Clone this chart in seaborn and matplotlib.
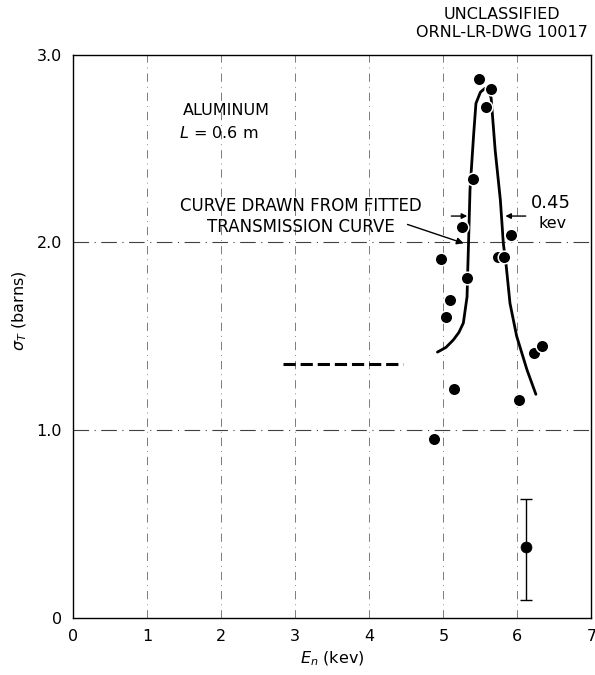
import matplotlib
matplotlib.use("Agg")
import matplotlib.pyplot as plt
import seaborn as sns
import pandas as pd

# Measured total cross section of aluminum
energy_kev = [4.87, 4.965, 5.03, 5.09, 5.15, 5.25, 5.32, 5.40, 5.48, 5.57,
              5.65, 5.74, 5.82, 5.91, 6.02, 6.22, 6.33]
sigma_barns = [0.95, 1.91, 1.60, 1.69, 1.22, 2.08, 1.81, 2.34, 2.87, 2.72,
               2.815, 1.92, 1.92, 2.04, 1.16, 1.41, 1.45]

# Low point with its error bar
err_energy = [6.12]
err_sigma = [0.378]
err_low = [0.094]
err_high = [0.63]

# Curve drawn from the fitted transmission curve
fit_energy = [4.92, 5.035, 5.135, 5.21, 5.27, 5.32, 5.33, 5.34, 5.36, 5.41,
              5.44, 5.50, 5.56, 5.605, 5.645, 5.70, 5.77, 5.81, 5.85, 5.90,
              5.99, 6.13, 6.25]
fit_sigma = [1.415, 1.44, 1.48, 1.52, 1.57, 1.71, 1.86, 1.995, 2.28, 2.58,
             2.74, 2.80, 2.82, 2.81, 2.77, 2.49, 2.225, 1.995, 1.87, 1.675,
             1.50, 1.32, 1.19]

# Potential-scattering level
level_energy = [2.84, 4.45]
level_sigma = [1.35, 1.35]

x_ticks = [0, 1, 2, 3, 4, 5, 6, 7]
x_tick_labels = ["0", "1", "2", "3", "4", "5", "6", "7"]
y_ticks = [0, 1.0, 2.0, 3.0]
y_tick_labels = ["0", "1.0", "2.0", "3.0"]

sns.set_style("white")
plt.rcParams["font.family"] = ["DejaVu Sans"]
plt.rcParams["text.color"] = "black"
plt.rcParams["axes.labelcolor"] = "black"
plt.rcParams["xtick.color"] = "black"
plt.rcParams["ytick.color"] = "black"

fig = plt.figure(figsize=(5.95, 6.75), dpi=100)
ax = fig.add_axes([0.123, 0.085, 0.871, 0.834])

# sparse dash-dot grid
for gx in x_ticks[1:-1]:
    ax.axvline(gx, color="0.4", lw=0.6, ls=(0, (10, 6, 1, 6)), zorder=0)
for gy in y_ticks[1:-1]:
    ax.axhline(gy, color="0.25", lw=0.8, ls=(0, (14, 5, 1, 5)), zorder=0)

fit_df = pd.DataFrame({"E": fit_energy, "sigma": fit_sigma})
sns.lineplot(data=fit_df, x="E", y="sigma", sort=False, color="black",
             lw=2.0, ax=ax, zorder=2)

level_df = pd.DataFrame({"E": level_energy, "sigma": level_sigma})
sns.lineplot(data=level_df, x="E", y="sigma", color="black", lw=2.2,
             ls=(0, (4, 1.6)), ax=ax, zorder=2)

pts_df = pd.DataFrame({"E": energy_kev, "sigma": sigma_barns})
sns.scatterplot(data=pts_df, x="E", y="sigma", color="black", s=82,
                edgecolor="white", linewidth=1.1, ax=ax, zorder=3)

err_df = pd.DataFrame({"E": err_energy, "sigma": err_sigma})
ax.errorbar(err_energy, err_sigma,
            yerr=[[err_sigma[0] - err_low[0]], [err_high[0] - err_sigma[0]]],
            fmt="none", ecolor="black", elinewidth=1.0, capsize=4, zorder=2)
sns.scatterplot(data=err_df, x="E", y="sigma", color="black", s=62,
                edgecolor="black", linewidth=0.5, ax=ax, zorder=3)

ax.set_xlim(0, 7)
ax.set_ylim(0, 3.0)
ax.set_xticks(x_ticks)
ax.set_xticklabels(x_tick_labels)
ax.set_yticks(y_ticks)
ax.set_yticklabels(y_tick_labels)
ax.tick_params(axis="both", length=0, labelsize=11.5, pad=8)
for sp in ax.spines.values():
    sp.set_color("black")
    sp.set_linewidth(1.0)

ax.set_xlabel(r"$E_n$ (kev)", fontsize=11.5, labelpad=4)
ax.set_ylabel(r"$\sigma_T$ (barns)", fontsize=11.5, labelpad=10)
ax.yaxis.set_label_coords(-0.085, 0.545)

ax.text(2.07, 2.70, "ALUMINUM", ha="center", va="center", fontsize=11.5)
ax.text(1.96, 2.58, r"$L$ = 0.6 m", ha="center", va="center", fontsize=11.5)

ax.text(3.08, 2.137, "CURVE DRAWN FROM FITTED\nTRANSMISSION CURVE",
        ha="center", va="center", fontsize=12, linespacing=1.25)
ax.annotate("", xy=(5.31, 1.99), xytext=(4.48, 2.10),
            arrowprops=dict(arrowstyle="-|>", color="black", lw=1.0,
                            mutation_scale=10))

# width marker
ax.annotate("", xy=(5.36, 2.14), xytext=(5.07, 2.14),
            arrowprops=dict(arrowstyle="-|>", color="black", lw=1.0,
                            mutation_scale=8))
ax.annotate("", xy=(5.80, 2.14), xytext=(6.15, 2.14),
            arrowprops=dict(arrowstyle="-|>", color="black", lw=1.0,
                            mutation_scale=8))
ax.text(6.45, 2.21, "0.45", ha="center", va="center", fontsize=13)
ax.text(6.47, 2.10, "kev", ha="center", va="center", fontsize=11.5)

fig.text(0.843, 0.978, "UNCLASSIFIED", ha="center", va="center",
         fontsize=11.5)
fig.text(0.843, 0.952, "ORNL-LR-DWG 10017", ha="center", va="center",
         fontsize=11.5)

fig.savefig("out.png", dpi=100)
